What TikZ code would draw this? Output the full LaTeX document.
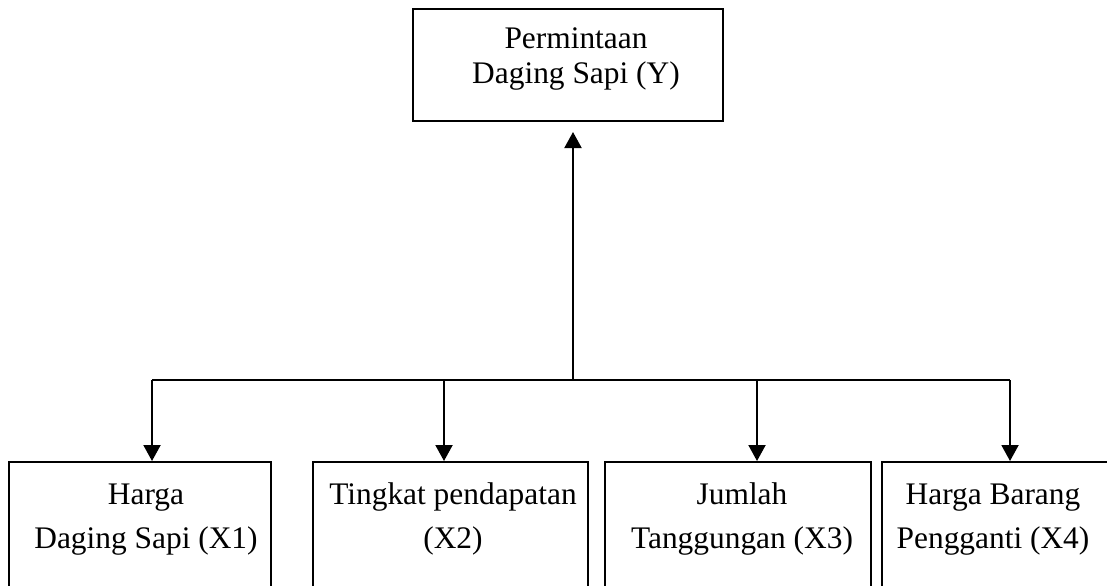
\documentclass[tikz,border=0pt]{standalone}
\usepackage{fontspec}
\setmainfont{Liberation Serif}
\usetikzlibrary{arrows.meta,positioning}

\tikzset{
  varbox/.style={draw, line width=1pt, inner sep=0pt},
  vartext/.style={align=center, inner sep=0pt, anchor=base},
  link/.style={line width=1pt},
  linkarrow/.style={link, -{Triangle[width=8.5pt,length=8pt]}}
}

\begin{document}
\begin{tikzpicture}[x=0.5pt,y=0.5pt,yscale=-1,xscale=1]
\useasboundingbox (0,0) rectangle (1107,585);
\clip (0,0) rectangle (1107,585);

% Boxes
\node [varbox, minimum width=155pt, minimum height=56pt] (y) at (568,65) {};
\node [varbox, minimum width=131pt, minimum height=89pt] (x1) at (140,551) {};
\node [varbox, minimum width=137.5pt, minimum height=89pt] (x2) at (450.5,551) {};
\node [varbox, minimum width=133pt, minimum height=89pt] (x3) at (738,551) {};
\node [varbox, minimum width=124pt, minimum height=89pt] (x4) at (1006,551) {};

% Text Node
\node [vartext, font=\fontsize{15.7}{17.5}\selectfont] (ty) at (576,83) {Permintaan\\Daging Sapi (Y)};
% Text Node
\node [vartext, font=\fontsize{15.7}{22}\selectfont] (tx1) at (146,548) {Harga\\Daging Sapi (X1)};
% Text Node
\node [vartext, font=\fontsize{15.7}{22}\selectfont] (tx2) at (453,548) {Tingkat pendapatan\\(X2)};
% Text Node
\node [vartext, font=\fontsize{15.7}{22}\selectfont] (tx3) at (742,548) {Jumlah\\Tanggungan (X3)};
% Text Node
\node [vartext, font=\fontsize{15.7}{22}\selectfont] (tx4) at (993,548) {Harga Barang\\Pengganti (X4)};

% Branch points on the bus
\coordinate (hub) at (573,380);
\coordinate (b1) at (152,380);
\coordinate (b2) at (444,380);
\coordinate (b3) at (757,380);
\coordinate (b4) at (1010,380);

%Straight Lines
\draw [link] (b1) -- (b4);
\draw [linkarrow, shorten >=5pt] (hub) -- (hub |- y.south);
\foreach \i in {1,2,3,4}
  \draw [linkarrow] (b\i) -- (b\i |- x\i.north);

\end{tikzpicture}
\end{document}
